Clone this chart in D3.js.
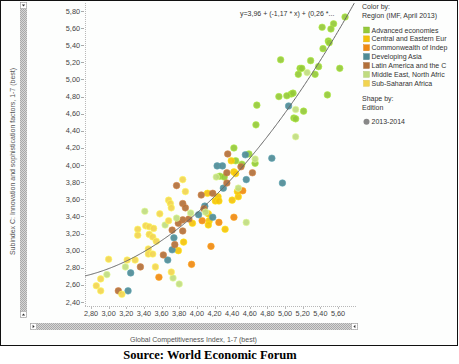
<!DOCTYPE html>
<html><head><meta charset="utf-8">
<script src="https://cdn.jsdelivr.net/npm/d3@7"></script>
<style>
html,body{margin:0;padding:0;background:#fff;}
svg{display:block;}
text{font-family:"Liberation Sans",Arial,sans-serif;}
text.source{font-family:"Liberation Serif","Times New Roman",serif;font-weight:bold;}
</style></head>
<body>
<svg id="chart" width="459" height="364"></svg>
<script>
// ---------------- data ----------------
const regions = ["Advanced economies","Central and Eastern Eur","Commonwealth of Indep","Developing Asia","Latin America and the C","Middle East, North Afric","Sub-Saharan Africa"];
const regionColors = ["#95c93a","#f4c20c","#ef8a14","#4f8b96","#b2703b","#c0dc80","#f2d450"];

const advanced = [[5.68,5.73],[5.55,5.65],[5.42,5.61],[5.52,5.59],[5.49,5.45],[5.50,5.43],[5.43,5.36],[4.95,5.23],[5.29,5.22],[5.17,5.13],[5.19,5.13],[5.38,5.15],[5.62,5.13],[5.15,5.06],[5.34,5.06],[5.07,4.83],[5.09,4.84],[5.02,4.81],[4.93,4.80],[5.48,4.82],[4.68,4.70],[5.21,4.63],[5.10,4.55],[5.12,4.54],[4.67,4.47],[4.42,4.20],[4.59,4.13],[4.44,4.05],[4.66,4.02],[4.51,4.01],[4.26,3.87],[4.31,3.86]];
const centralEastern = [[4.39,4.05],[4.42,3.92],[4.44,3.90],[4.12,3.67],[4.24,3.63],[4.21,3.58],[4.25,3.58],[4.40,3.59],[4.47,3.63],[4.46,3.69],[4.13,3.43],[4.14,3.35],[4.13,3.30],[4.32,3.25],[3.95,3.32],[3.85,3.10],[3.79,3.00]];
const cis = [[4.52,3.70],[4.42,3.39],[4.06,3.35],[4.25,3.33],[4.16,3.05],[3.94,2.84],[3.57,2.69]];
const devAsia = [[5.04,4.69],[4.55,4.12],[4.85,4.08],[4.56,3.83],[4.23,3.99],[4.29,3.99],[4.97,3.79],[4.30,3.73],[4.09,3.52],[4.02,3.42],[4.18,3.39],[3.74,3.15],[3.72,3.01],[3.67,2.89],[3.25,2.74],[3.22,2.53]];
const latAm = [[4.35,4.13],[4.50,3.98],[4.63,3.91],[4.34,3.91],[4.34,3.79],[3.77,3.76],[4.18,3.67],[4.05,3.65],[3.84,3.55],[3.87,3.50],[4.08,3.49],[3.91,3.37],[3.84,3.36],[3.79,3.32],[3.84,3.23],[3.72,3.24],[3.75,3.07],[3.62,2.95],[3.36,2.81],[3.11,2.53]];
const mena = [[5.25,5.08],[5.12,4.65],[5.12,4.33],[4.66,4.07],[4.22,3.86],[4.56,3.33],[4.47,3.73],[3.93,3.44],[4.10,3.45],[3.41,3.46],[3.64,3.30],[3.77,3.38],[3.19,2.81],[2.98,2.72],[3.73,2.68],[3.80,2.61]];
const subSaharan = [[3.84,3.83],[3.87,3.69],[3.68,3.59],[3.70,3.55],[3.71,3.50],[3.58,3.43],[3.68,3.35],[3.42,3.29],[3.46,3.28],[3.51,3.26],[3.33,3.25],[3.33,3.18],[3.46,3.19],[3.50,3.16],[3.54,3.11],[3.45,3.02],[3.45,2.96],[3.50,2.96],[3.00,2.90],[3.21,2.89],[3.30,2.89],[3.53,2.81],[3.71,2.75],[2.91,2.67],[2.86,2.59],[2.91,2.53],[3.15,2.49]];
const seriesData = [advanced, centralEastern, cis, devAsia, latAm, mena, subSaharan];

const xTicks = [2.8,3.0,3.2,3.4,3.6,3.8,4.0,4.2,4.4,4.6,4.8,5.0,5.2,5.4,5.6];
const yTicks = [2.4,2.6,2.8,3.0,3.2,3.4,3.6,3.8,4.0,4.2,4.4,4.6,4.8,5.0,5.2,5.4,5.6,5.8];
const trendCoef = [3.96,-1.17,0.26];
const trendLabel = "y=3,96 + (-1,17 * x) + (0,26 *...";
const xTitle = "Global Competitiveness Index, 1-7 (best)";
const yTitle = "Subindex C: Innovation and sophistication factors, 1-7 (best)";
const sourceText = "Source: World Economic Forum";

// ---------------- drawing ----------------
const svg = d3.select("#chart");
const plot = {left:85, right:357, top:3, bottom:306};
const x = d3.scaleLinear().domain([2.8,5.6]).range([91,338]);
const y = d3.scaleLinear().domain([2.4,5.8]).range([302,11]);
const fmt = v => d3.format(".2f")(v).replace(".", ",");

const defs = svg.append("defs");
const pat = defs.append("pattern").attr("id","hatch").attr("width",2).attr("height",2).attr("patternUnits","userSpaceOnUse");
pat.append("rect").attr("width",2).attr("height",2).attr("fill","#d6d6d6");
pat.append("rect").attr("width",1).attr("height",1).attr("fill","#a9a9a9");
pat.append("rect").attr("x",1).attr("y",1).attr("width",1).attr("height",1).attr("fill","#a9a9a9");
defs.append("clipPath").attr("id","clip").append("rect")
  .attr("x",plot.left).attr("y",plot.top).attr("width",plot.right-plot.left).attr("height",plot.bottom-plot.top);

// frame
svg.append("rect").attr("x",0.5).attr("y",0.5).attr("width",457).attr("height",345)
  .attr("fill","#fdfefd").attr("stroke","#111").attr("stroke-width",1);

// vertical scrollbar
svg.append("rect").attr("x",20).attr("y",2).attr("width",7).attr("height",316).attr("fill","url(#hatch)");
svg.append("rect").attr("x",20.5).attr("y",2.5).attr("width",6).attr("height",6).attr("fill","#fff").attr("stroke","#999").attr("stroke-width",0.5);
svg.append("path").attr("d","M21.8,4.6 L25.2,4.6 L23.5,6.6 Z").attr("fill","#333");
svg.append("rect").attr("x",20.5).attr("y",311.5).attr("width",6).attr("height",6).attr("fill","#fff").attr("stroke","#999").attr("stroke-width",0.5);
svg.append("path").attr("d","M21.8,315.6 L25.2,315.6 L23.5,313.6 Z").attr("fill","#333");
// horizontal scrollbar
svg.append("rect").attr("x",30).attr("y",323).attr("width",328).attr("height",7).attr("fill","url(#hatch)");
svg.append("rect").attr("x",30.5).attr("y",323.5).attr("width",6).attr("height",6).attr("fill","#fff").attr("stroke","#999").attr("stroke-width",0.5);
svg.append("path").attr("d","M32.6,324.8 L32.6,328.2 L34.6,326.5 Z").attr("fill","#333");
svg.append("rect").attr("x",351.5).attr("y",323.5).attr("width",6).attr("height",6).attr("fill","#fff").attr("stroke","#999").attr("stroke-width",0.5);
svg.append("path").attr("d","M355.4,324.8 L355.4,328.2 L353.4,326.5 Z").attr("fill","#333");

// axes lines (dotted)
svg.append("line").attr("x1",plot.left+0.5).attr("x2",plot.left+0.5).attr("y1",plot.top).attr("y2",plot.bottom)
  .attr("stroke","#b8b8b8").attr("stroke-dasharray","1,1");
svg.append("line").attr("x1",plot.left).attr("x2",plot.right).attr("y1",plot.bottom+0.5).attr("y2",plot.bottom+0.5)
  .attr("stroke","#b8b8b8").attr("stroke-dasharray","1,1");

// y ticks
const yAxis = svg.append("g");
yAxis.selectAll("line").data(yTicks).join("line")
  .attr("x1",81).attr("x2",84).attr("y1",d=>Math.round(y(d))+0.5).attr("y2",d=>Math.round(y(d))+0.5)
  .attr("stroke","#aaa");
yAxis.selectAll("text").data(yTicks).join("text")
  .attr("x",80).attr("y",d=>y(d)+2.5).attr("text-anchor","end")
  .attr("font-size",7.3).attr("fill","#444").text(fmt);
// x ticks
const xAxis = svg.append("g");
xAxis.selectAll("line").data(xTicks).join("line")
  .attr("x1",d=>Math.round(x(d))+0.5).attr("x2",d=>Math.round(x(d))+0.5).attr("y1",307).attr("y2",309)
  .attr("stroke","#bbb");
xAxis.selectAll("text").data(xTicks).join("text")
  .attr("x",d=>x(d)).attr("y",316).attr("text-anchor","middle")
  .attr("font-size",7.3).attr("fill","#444").text(fmt);

// axis titles
svg.append("text").attr("x",193.5).attr("y",341.5).attr("text-anchor","middle")
  .attr("font-size",7).attr("fill","#555").text(xTitle);
svg.append("text").attr("transform","translate(14.5,161.5) rotate(-90)").attr("text-anchor","middle")
  .attr("font-size",7).attr("fill","#555").text(yTitle);

// points
const pts = svg.append("g").attr("clip-path","url(#clip)");
seriesData.forEach((arr,i)=>{
  pts.append("g").selectAll("circle").data(arr).join("circle")
    .attr("cx",d=>x(d[0])).attr("cy",d=>y(d[1])).attr("r",3.3)
    .attr("fill",regionColors[i]).attr("fill-opacity",0.92)
    .attr("stroke",d3.color(regionColors[i]).brighter(0.5)).attr("stroke-width",0.6);
});

// trend line
const trendXs = d3.range(x.invert(plot.left), x.invert(plot.right), 0.01);
const poly = v => trendCoef[0] + trendCoef[1]*v + trendCoef[2]*v*v;
svg.append("path").attr("clip-path","url(#clip)")
  .datum(trendXs)
  .attr("d", d3.line().x(v=>x(v)).y(v=>y(poly(v))))
  .attr("fill","none").attr("stroke","#666").attr("stroke-width",1);

svg.append("text").attr("x",240).attr("y",15.5).attr("font-size",7).attr("fill","#333").text(trendLabel);

// legend
const lg = svg.append("g").attr("fill","#333");
lg.append("text").attr("x",362).attr("y",8.5).attr("font-size",7).text("Color by:");
lg.append("text").attr("x",362).attr("y",17.5).attr("font-size",7).text("Region (IMF, April 2013)");
const itemY = i => 30 + i*8.88;
lg.selectAll("rect.sw").data(regions).join("rect").attr("class","sw")
  .attr("x",363.5).attr("y",(d,i)=>itemY(i)-3).attr("width",6).attr("height",6)
  .attr("fill",(d,i)=>regionColors[i]).attr("stroke",(d,i)=>d3.color(regionColors[i]).darker(0.3)).attr("stroke-width",0.4);
lg.selectAll("text.it").data(regions).join("text").attr("class","it")
  .attr("x",371.5).attr("y",(d,i)=>itemY(i)+2.5).attr("font-size",7).text(d=>d);
lg.append("text").attr("x",362).attr("y",100.8).attr("font-size",7).text("Shape by:");
lg.append("text").attr("x",362).attr("y",109.8).attr("font-size",7).text("Edition");
lg.append("circle").attr("cx",366.5).attr("cy",121.7).attr("r",3).attr("fill","#888");
lg.append("text").attr("x",371.5).attr("y",124.2).attr("font-size",7).text("2013-2014");

// source
svg.append("text").attr("class","source").attr("x",210).attr("y",359).attr("text-anchor","middle")
  .attr("font-size",12.5).attr("fill","#000").text(sourceText);
</script>
</body></html>
